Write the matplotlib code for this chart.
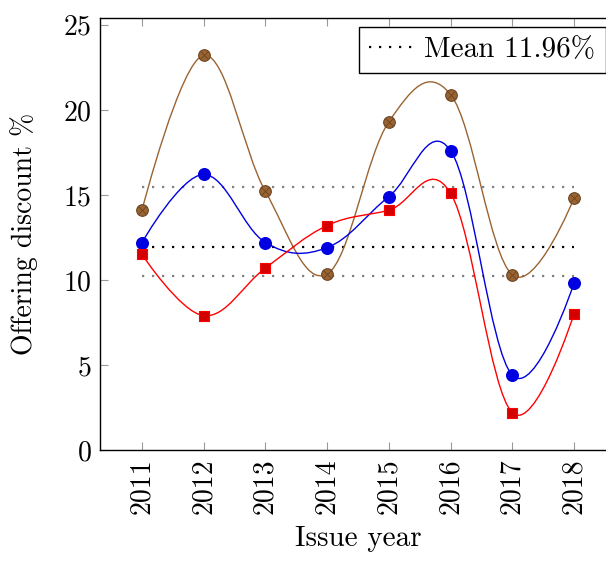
#!/usr/bin/env python3
"""Offering discount by issue year, pgfplots-like smooth curves."""

import matplotlib
matplotlib.use("Agg")
import matplotlib.pyplot as plt
import numpy as np
from matplotlib.path import Path
from matplotlib.patches import PathPatch

plt.rcParams["font.family"] = "serif"
plt.rcParams["font.serif"] = ["cmr10"]
plt.rcParams["mathtext.fontset"] = "cm"
plt.rcParams["axes.formatter.use_mathtext"] = True

years = [2011, 2012, 2013, 2014, 2015, 2016, 2017, 2018]
brown_vals = [14.1, 23.2, 15.2, 10.35, 19.3, 20.9, 10.3, 14.8]
blue_vals = [12.2, 16.2, 12.2, 11.9, 14.9, 17.6, 4.4, 9.8]
red_vals = [11.5, 7.9, 10.7, 13.2, 14.1, 15.1, 2.2, 8.0]
mean_val = 11.96
upper_band = 15.45
lower_band = 10.25

BROWN = "#9a6432"
BROWN_EDGE = "#6b4320"
BLUE = "#0000e0"
RED = "#ff0000"
RED_FILL = "#d40000"


def smooth_path(xs, ys, k=0.55 / 3):
    # bezier through the points, tangents from neighbours (tikz "smooth"-like)
    pts = np.column_stack([xs, ys]).astype(float)
    n = len(pts)
    verts = [pts[0]]
    codes = [Path.MOVETO]
    for i in range(n - 1):
        p1 = pts[i]
        p2 = pts[i + 1]
        c1 = p1 + k * (p2 - pts[i - 1]) if i > 0 else p1
        c2 = p2 - k * (pts[i + 2] - p1) if i + 2 < n else p2
        verts += [c1, c2, p2]
        codes += [Path.CURVE4] * 3
    return Path(verts, codes)


fig = plt.figure(figsize=(6.06, 5.63), dpi=100)
ax = fig.add_axes([0.165, 0.2007, 0.8515, 0.7673])

for vals, col in [(brown_vals, BROWN), (blue_vals, BLUE), (red_vals, RED)]:
    ax.add_patch(PathPatch(smooth_path(years, vals), facecolor="none",
                           edgecolor=col, linewidth=1.0, zorder=3))

dots = (0, (1, 3.5))
ax.plot(years, [upper_band] * len(years), color="#808080", linestyle=dots,
        linewidth=1.6, zorder=2)
ax.plot(years, [lower_band] * len(years), color="#808080", linestyle=dots,
        linewidth=1.6, zorder=2)
ax.plot(years, [mean_val] * len(years), color="black", linestyle=dots,
        linewidth=1.6, zorder=2, label="Mean 11.96%")

ax.scatter(years, brown_vals, s=70, marker="o", facecolor=BROWN,
           edgecolor=BROWN_EDGE, linewidth=0.8, zorder=4)
ax.scatter(years, brown_vals, s=30, marker="x", color=BROWN_EDGE,
           linewidth=0.6, zorder=5)
ax.scatter(years, blue_vals, s=70, marker="o", facecolor=BLUE,
           edgecolor=BLUE, zorder=4)
ax.scatter(years, red_vals, s=58, marker="s", facecolor=RED_FILL,
           edgecolor=RED, linewidth=0.8, zorder=4)

ax.set_xlim(2010.32, 2018.68)
ax.set_ylim(0, 25.4)
ax.set_xticks(years)
ax.set_xticklabels([str(y) for y in years], rotation=90)
ax.set_yticks([0, 5, 10, 15, 20, 25])
ax.tick_params(direction="in", length=6, color="#999999", labelsize=20,
               top=True, right=True, pad=6)
ax.set_xlabel("Issue year", fontsize=21, labelpad=8)
ax.set_ylabel("Offering discount %", fontsize=20, labelpad=18)
for sp in ax.spines.values():
    sp.set_linewidth(1.0)

leg = ax.legend(loc="upper right", bbox_to_anchor=(0.98, 0.98), fontsize=21,
                frameon=True, fancybox=False, edgecolor="black", framealpha=1,
                handlelength=1.5, handletextpad=0.4, borderpad=0.35,
                borderaxespad=0)
leg.get_frame().set_linewidth(1.0)

fig.savefig("out.png", dpi=100)
